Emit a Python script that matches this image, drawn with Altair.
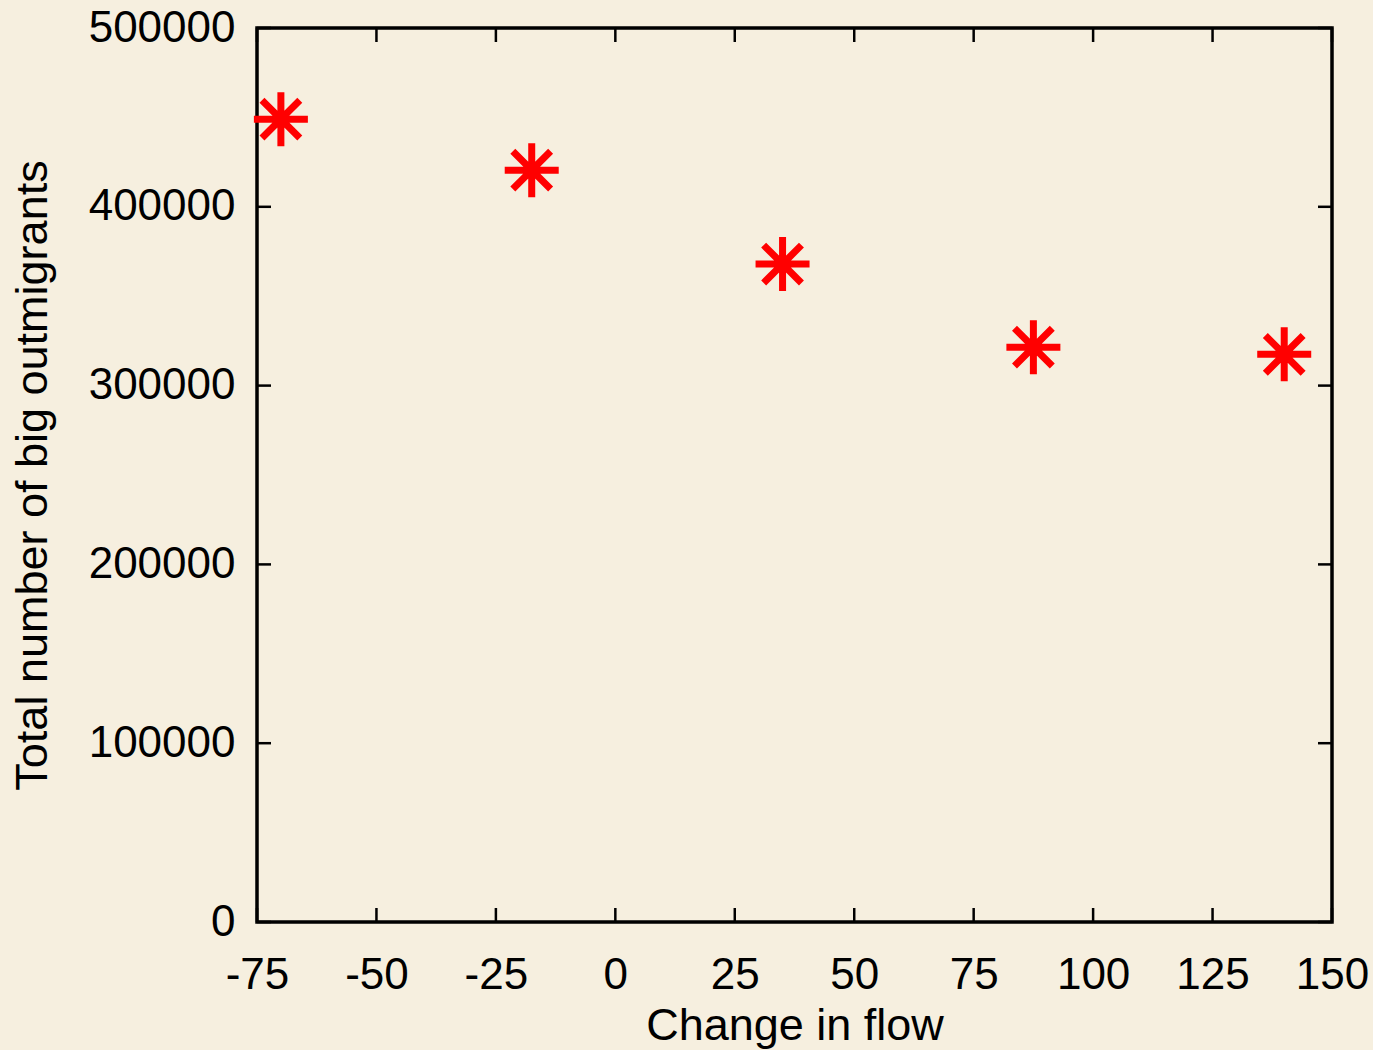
import altair as alt
import pandas as pd

# Data
change_in_flow = [-70, -17.5, 35, 87.5, 140]
big_outmigrants = [449000, 420500, 368000, 321500, 317500]

x_ticks = [-75, -50, -25, 0, 25, 50, 75, 100, 125, 150]
y_ticks = [0, 100000, 200000, 300000, 400000, 500000]

W, H = 1075, 894
TICK = 14
FONT = "Liberation Sans"
BG = "#F6EFDF"

df = pd.DataFrame({"x": change_in_flow, "y": big_outmigrants})
xt = pd.DataFrame({"v": x_ticks})
yt = pd.DataFrame({"v": y_ticks})

xscale = alt.Scale(domain=[-75, 150], nice=False, zero=False)
yscale = alt.Scale(domain=[0, 500000], nice=False)

asterisk = "M-1,0L1,0M0,-1L0,1M-0.7,-0.7L0.7,0.7M-0.7,0.7L0.7,-0.7"

points = alt.Chart(df).mark_point(
    shape=asterisk, size=54 * 54, color="#FF0000", strokeWidth=7,
    strokeCap="butt", filled=False, opacity=1
).encode(
    x=alt.X("x:Q", scale=xscale, title="Change in flow",
            axis=alt.Axis(values=x_ticks, ticks=False, tickSize=0, domain=False, grid=False,
                          labelExpr="'' + datum.value",
                          labelFontSize=44, labelFont=FONT, labelColor="black",
                          labelPadding=31, labelFlush=False, labelOverlap=False,
                          titleFontSize=45, titleFont=FONT, titleFontWeight="normal",
                          titleColor="black", titleBaseline="alphabetic",
                          titleX=W / 2, titleY=117, titleAlign="center")),
    y=alt.Y("y:Q", scale=yscale, title="Total number of big outmigrants",
            axis=alt.Axis(values=y_ticks, ticks=False, tickSize=0, domain=False, grid=False,
                          labelExpr="'' + datum.value",
                          labelFontSize=44, labelFont=FONT, labelColor="black",
                          labelPadding=22, labelOverlap=False, labelFlush=False,
                          labelBaseline="middle",
                          titleFontSize=45, titleFont=FONT, titleFontWeight="normal",
                          titleColor="black", titleBaseline="alphabetic",
                          titleAngle=-90, titleX=-211, titleY=H / 2, titleAlign="center")),
)

tick_style = dict(color="black", strokeWidth=2.5)

bottom_ticks = alt.Chart(xt).mark_rule(**tick_style).encode(
    x=alt.X("v:Q", scale=xscale), y=alt.value(H), y2=alt.value(H - TICK))
top_ticks = alt.Chart(xt).mark_rule(**tick_style).encode(
    x=alt.X("v:Q", scale=xscale), y=alt.value(0), y2=alt.value(TICK))
left_ticks = alt.Chart(yt).mark_rule(**tick_style).encode(
    y=alt.Y("v:Q", scale=yscale), x=alt.value(0), x2=alt.value(TICK))
right_ticks = alt.Chart(yt).mark_rule(**tick_style).encode(
    y=alt.Y("v:Q", scale=yscale), x=alt.value(W), x2=alt.value(W - TICK))

chart = alt.layer(
    bottom_ticks, top_ticks, left_ticks, right_ticks, points
).properties(
    width=W, height=H,
    background=BG,
    padding={"left": 257, "top": 28, "right": 41, "bottom": 128},
    autosize=alt.AutoSizeParams(type="none"),
).configure_view(
    stroke="black", strokeWidth=3.5, fill=BG
)

chart.save("out.html", embed_options={"renderer": "svg", "actions": False})
